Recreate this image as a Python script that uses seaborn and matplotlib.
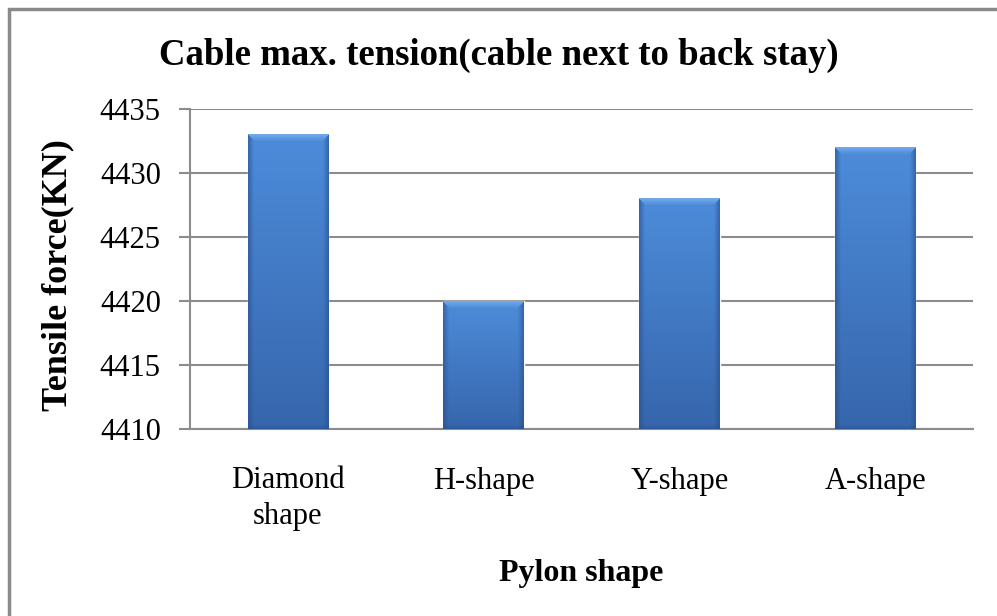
import numpy as np
import pandas as pd
import matplotlib
matplotlib.use("Agg")
import matplotlib.pyplot as plt
from matplotlib.patches import Rectangle
import seaborn as sns

# Chart data
shapes = ["Diamond\nshape", "H-shape", "Y-shape", "A-shape"]
tension = [4433, 4420, 4428, 4432]
y_ticks = [4410, 4415, 4420, 4425, 4430, 4435]

title = "Cable max. tension(cable next to back stay)"
x_title = "Pylon shape"
y_title = "Tensile force(KN)"

sns.set_theme(style="white")
plt.rcParams["font.family"] = ["Liberation Serif", "DejaVu Serif"]

W, H = 997, 616
fig = plt.figure(figsize=(W / 100, H / 100), dpi=100)
ax_left, ax_right, ax_top, ax_bottom = 190, 973, 109, 429
ax = fig.add_axes([ax_left / W, 1 - ax_bottom / H, (ax_right - ax_left) / W, (ax_bottom - ax_top) / H])

df = pd.DataFrame({"shape": shapes, "tension": tension})
sns.barplot(data=df, x="shape", y="tension", color="#4a86d2", width=0.41,
            ax=ax, zorder=2, saturation=1)

ax.set_ylim(y_ticks[0], y_ticks[-1])
ax.set_xlim(-0.5, len(shapes) - 0.5)
ax.set_yticks(y_ticks)
ax.yaxis.grid(True, color="#8c8c8c", linewidth=1.5, zorder=0)
ax.set_axisbelow(True)

for s in ["top", "right"]:
    ax.spines[s].set_visible(False)
for s in ["left", "bottom"]:
    ax.spines[s].set_color("#8c8c8c")
    ax.spines[s].set_linewidth(1.5)

# category boundary tick marks on x, outward ticks on y
ax.set_xticks(np.arange(-0.5, len(shapes)), minor=True)
ax.tick_params(axis="x", which="minor", length=8, width=1.5, color="#8c8c8c", direction="out")
ax.tick_params(axis="x", which="major", length=0, pad=27, labelsize=22, labelcolor="black")
ax.tick_params(axis="y", which="major", length=8, width=1.5, color="#8c8c8c", direction="out",
               left=True, labelsize=22, labelcolor="black", pad=13)
for lab in ax.get_xticklabels():
    lab.set_linespacing(1.3)

ax.set_xlabel(x_title, fontsize=23, fontweight="bold", color="black", va="center")
ax.xaxis.set_label_coords(0.5, -(573 - ax_bottom) / (ax_bottom - ax_top))
ax.set_ylabel(y_title, fontsize=26, fontweight="bold", color="black", va="center", ha="center")
ax.yaxis.set_label_coords(-(ax_left - 58) / (ax_right - ax_left), 0.48)
fig.text(499 / W, 1 - 55 / H, title, ha="center", va="center",
         fontsize=26.5, fontweight="bold", color="black")

# bevelled gradient fill on each bar
fig.canvas.draw()
ax_w_px = ax.get_window_extent().width
ax_h_px = ax.get_window_extent().height
top_c = np.array([0x4d, 0x8c, 0xda]) / 255
bot_c = np.array([0x36, 0x66, 0xac]) / 255
light = np.array([0x7c, 0xb2, 0xf0]) / 255
dark = np.array([0x27, 0x4f, 0x8c]) / 255
for p in ax.patches:
    x0, w = p.get_x(), p.get_width()
    y1 = p.get_y() + p.get_height()
    y0 = max(p.get_y(), y_ticks[0])
    nx = max(int(round(w / (len(shapes)) * ax_w_px)), 2)
    ny = max(int(round((y1 - y0) / (y_ticks[-1] - y_ticks[0]) * ax_h_px)), 2)
    yy, xx = np.mgrid[0:ny, 0:nx].astype(float)
    t = (yy / (ny - 1))[..., None]
    img = top_c * (1 - t) + bot_c * t
    bev = 7.0
    side = np.minimum(xx, nx - 1 - xx)
    dt = yy
    db = ny - 1 - yy
    top_mask = (dt < bev) & (dt <= side)
    side_mask = (side < bev * 0.8) & ~top_mask
    bot_mask = (db < 4) & ~top_mask
    k = (1 - dt / bev)[..., None]
    img = np.where(top_mask[..., None], img * (1 - 0.75 * k) + light * 0.75 * k, img)
    ks = (1 - side / (bev * 0.8))[..., None]
    img = np.where(side_mask[..., None], img * (1 - 0.6 * ks) + dark * 0.6 * ks, img)
    kb = (1 - db / 4)[..., None]
    img = np.where(bot_mask[..., None], img * (1 - 0.5 * kb) + dark * 0.5 * kb, img)
    ax.imshow(np.clip(img, 0, 1), extent=(x0, x0 + w, y0, y1), origin="upper",
              aspect="auto", interpolation="bilinear", zorder=3)

ax.set_xlim(-0.5, len(shapes) - 0.5)
ax.set_ylim(y_ticks[0], y_ticks[-1])

# chart-area border
fig.patches.append(Rectangle((9 / W, -0.1), 1.2, 1.1 - 9 / H, transform=fig.transFigure,
                             fill=False, edgecolor="#8a8a8a", linewidth=2.5, zorder=10))

fig.savefig("out.png", dpi=100)
